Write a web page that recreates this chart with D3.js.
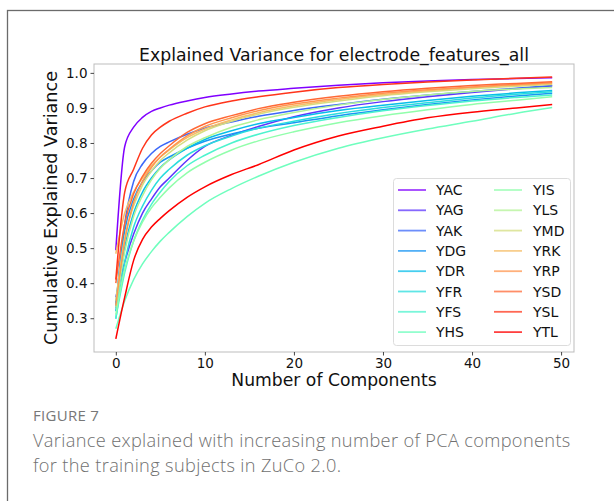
<!DOCTYPE html>
<html>
<head>
<meta charset="utf-8">
<script src="https://cdn.jsdelivr.net/npm/d3@7"></script>
<style>
  html, body { margin: 0; padding: 0; background: #fff; }
  svg { display: block; }
</style>
</head>
<body>
<svg id="chart" width="614" height="501"></svg>
<script>
// ---------------- DATA ----------------
const chartTitle = "Explained Variance for electrode_features_all";
const xLabel = "Number of Components";
const yLabel = "Cumulative Explained Variance";
const xTicks = [0, 10, 20, 30, 40, 50];
const yTicks = [0.3, 0.4, 0.5, 0.6, 0.7, 0.8, 0.9, 1.0];
const components = [0, 1, 2, 3, 4, 5, 6, 8, 10, 13, 16, 20, 25, 30, 35, 40, 45, 49];
const subjects = ["YAC","YAG","YAK","YDG","YDR","YFR","YFS","YHS","YIS","YLS","YMD","YRK","YRP","YSD","YSL","YTL"];

const YAC = [0.494, 0.79, 0.845, 0.873, 0.89, 0.90, 0.908, 0.92, 0.93, 0.94, 0.948, 0.956, 0.965, 0.972, 0.977, 0.981, 0.984, 0.986];
const YAG = [0.36, 0.46, 0.54, 0.60, 0.64, 0.675, 0.70, 0.75, 0.79, 0.822, 0.847, 0.875, 0.90, 0.918, 0.932, 0.944, 0.955, 0.963];
const YAK = [0.33, 0.57, 0.69, 0.74, 0.77, 0.79, 0.803, 0.825, 0.842, 0.86, 0.876, 0.893, 0.91, 0.925, 0.937, 0.947, 0.956, 0.964];
const YDG = [0.34, 0.55, 0.64, 0.69, 0.72, 0.745, 0.76, 0.785, 0.805, 0.826, 0.842, 0.858, 0.878, 0.895, 0.91, 0.923, 0.934, 0.942];
const YDR = [0.32, 0.50, 0.60, 0.66, 0.70, 0.73, 0.752, 0.785, 0.81, 0.835, 0.855, 0.873, 0.893, 0.908, 0.921, 0.933, 0.943, 0.95];
const YFR = [0.298, 0.46, 0.56, 0.62, 0.665, 0.70, 0.725, 0.765, 0.792, 0.82, 0.842, 0.862, 0.884, 0.901, 0.915, 0.928, 0.939, 0.946];
const YFS = [0.30, 0.43, 0.52, 0.58, 0.625, 0.66, 0.69, 0.735, 0.765, 0.80, 0.825, 0.85, 0.873, 0.892, 0.907, 0.92, 0.93, 0.937];
const YHS = [0.27, 0.35, 0.41, 0.455, 0.49, 0.52, 0.545, 0.59, 0.628, 0.67, 0.705, 0.745, 0.785, 0.815, 0.84, 0.862, 0.885, 0.901];
const YIS = [0.31, 0.44, 0.52, 0.575, 0.615, 0.645, 0.672, 0.715, 0.745, 0.78, 0.806, 0.832, 0.858, 0.878, 0.895, 0.91, 0.922, 0.932];
const YLS = [0.33, 0.49, 0.59, 0.65, 0.695, 0.728, 0.752, 0.79, 0.815, 0.845, 0.866, 0.887, 0.908, 0.924, 0.937, 0.947, 0.954, 0.958];
const YMD = [0.35, 0.53, 0.62, 0.68, 0.72, 0.75, 0.772, 0.808, 0.835, 0.862, 0.882, 0.902, 0.92, 0.935, 0.946, 0.955, 0.962, 0.967];
const YRK = [0.484, 0.60, 0.66, 0.70, 0.735, 0.76, 0.78, 0.815, 0.84, 0.866, 0.886, 0.906, 0.924, 0.938, 0.949, 0.958, 0.965, 0.97];
const YRP = [0.336, 0.52, 0.63, 0.69, 0.73, 0.76, 0.782, 0.82, 0.847, 0.872, 0.892, 0.911, 0.928, 0.942, 0.952, 0.96, 0.967, 0.972];
const YSD = [0.40, 0.57, 0.655, 0.705, 0.742, 0.77, 0.792, 0.83, 0.855, 0.878, 0.898, 0.916, 0.933, 0.946, 0.956, 0.964, 0.97, 0.975];
const YSL = [0.41, 0.66, 0.725, 0.785, 0.823, 0.845, 0.862, 0.885, 0.903, 0.92, 0.932, 0.945, 0.958, 0.967, 0.974, 0.98, 0.985, 0.988];
const YTL = [0.241, 0.36, 0.465, 0.525, 0.56, 0.585, 0.607, 0.645, 0.675, 0.71, 0.738, 0.78, 0.82, 0.848, 0.872, 0.888, 0.90, 0.91];

const seriesValues = [YAC, YAG, YAK, YDG, YDR, YFR, YFS, YHS, YIS, YLS, YMD, YRK, YRP, YSD, YSL, YTL];

const captionLabel = "FIGURE 7";
const captionLines = [
  "Variance explained with increasing number of PCA components",
  "for the training subjects in ZuCo 2.0."
];

// ---------------- DRAW ----------------
// matplotlib "rainbow" colormap
function rainbow(t) {
  const r = Math.min(1, Math.max(0, Math.abs(2 * t - 0.5)));
  const g = Math.min(1, Math.max(0, Math.sin(Math.PI * t)));
  const b = Math.min(1, Math.max(0, Math.cos(Math.PI / 2 * t)));
  return d3.rgb(r * 255, g * 255, b * 255).formatHex();
}

const series = subjects.map((name, i) => ({
  name,
  color: rainbow(i / (subjects.length - 1)),
  points: components.map((c, j) => ({ x: c, y: seriesValues[i][j] }))
}));

const svg = d3.select("#chart");
const W = 614, H = 501;
const plot = { left: 94, right: 574, top: 64, bottom: 352 };

// page frame
svg.append("rect")
  .attr("x", 7.5).attr("y", 10.5)
  .attr("width", W + 20).attr("height", H + 20)
  .attr("fill", "none").attr("stroke", "#6b6b6b").attr("stroke-width", 1.3);

const xMin = 0, xMax = 49;
const xPad = (xMax - xMin) * 0.05;
const x = d3.scaleLinear().domain([xMin - xPad, xMax + xPad]).range([plot.left, plot.right]);
const yMinV = 0.241, yMaxV = 0.988;
const yPad = (yMaxV - yMinV) * 0.05;
const y = d3.scaleLinear().domain([yMinV - yPad, yMaxV + yPad]).range([plot.bottom, plot.top]);

const font = "'DejaVu Sans', sans-serif";

// lines
const line = d3.line().x(d => x(d.x)).y(d => y(d.y)).curve(d3.curveMonotoneX);
const g = svg.append("g");
series.forEach(s => {
  g.append("path")
    .attr("d", line(s.points))
    .attr("fill", "none")
    .attr("stroke", s.color)
    .attr("stroke-width", 1.5)
    .attr("stroke-linejoin", "round");
});

// plot frame
svg.append("rect")
  .attr("x", plot.left).attr("y", plot.top)
  .attr("width", plot.right - plot.left).attr("height", plot.bottom - plot.top)
  .attr("fill", "none").attr("stroke", "#bdbdbd").attr("stroke-width", 1);

// axes
const xAxis = d3.axisBottom(x).tickValues(xTicks).tickSize(3.5).tickPadding(2.5).tickFormat(d3.format("d"));
const yAxis = d3.axisLeft(y).tickValues(yTicks).tickSize(3.5).tickPadding(3).tickFormat(d3.format(".1f"));

const gx = svg.append("g").attr("transform", `translate(0,${plot.bottom})`).call(xAxis);
const gy = svg.append("g").attr("transform", `translate(${plot.left},0)`).call(yAxis);
[gx, gy].forEach(ax => {
  ax.select(".domain").remove();
  ax.selectAll(".tick line").attr("stroke", "#333").attr("stroke-width", 0.9);
  ax.selectAll(".tick text").attr("fill", "#111").style("font-family", font).style("font-size", "13.5px");
});

// title and labels
svg.append("text")
  .attr("x", (plot.left + plot.right) / 2).attr("y", 61)
  .attr("text-anchor", "middle")
  .style("font-family", font).style("font-size", "17.3px").attr("fill", "#111")
  .text(chartTitle);

svg.append("text")
  .attr("x", (plot.left + plot.right) / 2).attr("y", 385.5)
  .attr("text-anchor", "middle")
  .style("font-family", font).style("font-size", "17.2px").attr("fill", "#111")
  .text(xLabel);

svg.append("text")
  .attr("transform", `translate(56.5,${(plot.top + plot.bottom) / 2}) rotate(-90)`)
  .attr("text-anchor", "middle")
  .style("font-family", font).style("font-size", "17.6px").attr("fill", "#111")
  .text(yLabel);

// legend
const leg = svg.append("g");
leg.append("rect")
  .attr("x", 393.5).attr("y", 178.5).attr("width", 177).attr("height", 167)
  .attr("rx", 3).attr("ry", 3)
  .attr("fill", "#fff").attr("fill-opacity", 0.85)
  .attr("stroke", "#dcdcdc").attr("stroke-width", 1);

const rowsPerCol = 8;
const colLineX = [398, 494];
const colTextX = [436, 533];
series.forEach((s, i) => {
  const col = Math.floor(i / rowsPerCol);
  const row = i % rowsPerCol;
  const cy = 190 + row * 20.3;
  leg.append("line")
    .attr("x1", colLineX[col]).attr("x2", colLineX[col] + 28)
    .attr("y1", cy).attr("y2", cy)
    .attr("stroke", s.color).attr("stroke-width", 1.8).attr("stroke-opacity", 0.75);
  leg.append("text")
    .attr("x", colTextX[col]).attr("y", cy + 5)
    .style("font-family", font).style("font-size", "14px").attr("fill", "#111")
    .text(s.name);
});

// caption
const capFont = "'Open Sans', 'Noto Sans', sans-serif";
svg.append("text")
  .attr("x", 33).attr("y", 421)
  .style("font-family", capFont).style("font-size", "15px").style("letter-spacing", "0.3px").attr("fill", "#777")
  .text(captionLabel);
captionLines.forEach((t, i) => {
  svg.append("text")
    .attr("x", 33).attr("y", 447 + i * 24.5)
    .style("font-family", capFont).style("font-size", "18.2px").style("font-weight", 300)
    .style("letter-spacing", "0.35px")
    .attr("fill", "#707070")
    .text(t);
});
</script>
</body>
</html>
